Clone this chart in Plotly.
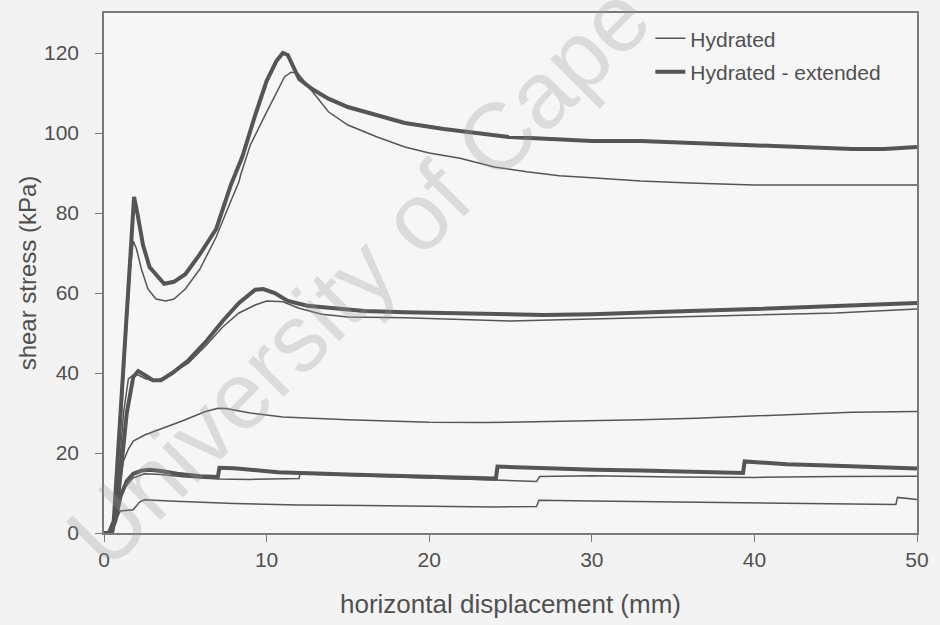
import plotly.graph_objects as go

# ---- data: Hydrated (thin) ----
hyd_a_x = [0, 0.4, 0.7, 1.2, 1.6, 1.8, 2.0, 2.3, 2.7, 3.2, 3.8, 4.3, 5.0, 5.9, 6.9, 7.7, 8.2, 8.3, 8.4, 9.0, 9.9, 10.6, 11.1, 11.5, 11.9, 12.4, 12.9, 13.8, 15, 16.8, 18.5, 20, 21.9, 24, 26, 28, 30, 33, 36, 40, 45, 50]
hyd_a_y = [0, 0, 5, 40, 65, 73, 71, 66, 61, 58.5, 58, 58.5, 61, 66, 74, 82, 87, 87.8, 89.5, 97, 104.4, 110, 114, 115.2, 115, 112.5, 110, 105.3, 102, 99, 96.5, 95, 93.7, 91.5, 90.3, 89.3, 88.8, 88, 87.5, 87, 87, 87]

hyd_b_x = [0, 0.5, 0.8, 1.2, 1.5, 1.8, 2.1, 2.6, 3.2, 4.0, 5.2, 6.3, 7.3, 8.3, 9.3, 10.0, 11.0, 12.0, 13.4, 15, 18.5, 21, 25, 30, 35, 40, 45, 50]
hyd_b_y = [0, 0, 8, 30, 38.5, 39.5, 39.5, 38.5, 38, 39.5, 42.5, 47, 51.5, 55, 57, 58, 57.8, 56.2, 54.7, 54, 53.8, 53.5, 53, 53.5, 54, 54.5, 55, 56]

hyd_c_x = [0, 0.4, 0.8, 1.2, 1.5, 1.8, 2.5, 3.5, 4.8, 5.9, 6.2, 7.0, 7.5, 9, 11, 15, 20, 23.4, 27, 30, 33, 36.4, 40, 43, 46, 50]
hyd_c_y = [0, 0, 8, 18, 21, 23, 24.5, 26, 28, 29.8, 30.3, 31.2, 31.1, 30, 29, 28.3, 27.7, 27.6, 27.8, 28, 28.3, 28.7, 29.3, 29.8, 30.2, 30.4]

hyd_d_x = [0, 0.4, 0.8, 1.2, 1.8, 2.5, 3.5, 5, 7.0, 9, 12, 12.05, 15, 18, 21, 24, 26.6, 26.8, 30, 35, 40, 45, 50]
hyd_d_y = [0, 0, 6, 11, 13.8, 14.8, 14.6, 14, 13.5, 13.4, 13.6, 14.8, 14.4, 14, 13.6, 13.2, 12.9, 14.1, 14.3, 14, 13.9, 14.1, 14.2]

hyd_e_x = [0, 0.3, 0.6, 1.0, 1.8, 2.2, 2.5, 4, 8, 12, 16, 21.5, 24, 26.6, 26.75, 30, 35, 40, 45, 48.7, 48.8, 50]
hyd_e_y = [0, 0, 2, 5.5, 5.8, 7.8, 8.3, 8, 7.4, 7.0, 6.9, 6.7, 6.5, 6.6, 8.2, 8.0, 7.8, 7.5, 7.3, 7.1, 8.9, 8.4]

# ---- data: Hydrated - extended (thick) ----
ext_a_x = [0, 0.3, 0.6, 1.2, 1.6, 1.85, 2.05, 2.4, 2.8, 3.2, 3.7, 4.3, 5.0, 5.9, 6.9, 7.8, 8.5, 9.3, 10.0, 10.6, 11.0, 11.3, 11.7, 12.0, 12.8, 13.8, 15.0, 16.8, 18.5, 20.9, 23.0, 24.9, 27.5, 30, 33, 36, 40, 43, 46, 48, 50]
ext_a_y = [0, 0, 3, 41, 70, 84, 80, 72, 66.5, 64.5, 62.3, 62.8, 64.7, 69.7, 76, 87, 94, 104.5, 113, 118, 120, 119.5, 116, 113.5, 111, 108.6, 106.5, 104.5, 102.5, 101, 100, 99, 98.5, 98, 98, 97.5, 97, 96.5, 96, 96, 96.5]

ext_b_x = [0, 0.5, 0.9, 1.4, 1.8, 2.1, 2.5, 3.0, 3.5, 4.2, 5.2, 6.3, 7.3, 8.3, 9.3, 9.8, 10.5, 11.3, 12.5, 14.4, 16, 18.5, 21, 24, 27, 30, 33, 36, 40, 43, 46, 50]
ext_b_y = [0, 0, 10, 30, 39, 40.5, 39.5, 38.2, 38.2, 40, 43.2, 48, 53, 57.5, 60.8, 61, 60, 58, 56.8, 56, 55.5, 55.2, 55, 54.7, 54.5, 54.7, 55, 55.5, 56, 56.5, 57, 57.5]

ext_c_x = [0, 0.4, 0.7, 1.0, 1.4, 1.8, 2.3, 2.8, 3.5, 4.5, 5.9, 7.0, 7.1, 8, 10.7, 12, 15, 18.9, 21, 24.1, 24.2, 27, 30.2, 33, 36, 39.3, 39.4, 42, 45, 48, 50]
ext_c_y = [0, 0, 3, 9, 13, 14.8, 15.6, 15.8, 15.5, 14.8, 14.2, 14.0, 16.3, 16.2, 15.2, 15, 14.6, 14.2, 14, 13.6, 16.6, 16.2, 15.8, 15.6, 15.3, 15.0, 17.9, 17.2, 16.8, 16.4, 16.1]

x_ticks = [0, 10, 20, 30, 40, 50]
y_ticks = [0, 20, 40, 60, 80, 100, 120]

LINE = "#555555"
TEXT = "#505050"
FONT = "Liberation Sans, Arial, sans-serif"

fig = go.Figure()

thin = [(hyd_a_x, hyd_a_y), (hyd_b_x, hyd_b_y), (hyd_c_x, hyd_c_y), (hyd_d_x, hyd_d_y), (hyd_e_x, hyd_e_y)]
thick = [(ext_a_x, ext_a_y), (ext_b_x, ext_b_y), (ext_c_x, ext_c_y)]

for i, (xs, ys) in enumerate(thin):
    fig.add_trace(go.Scatter(x=xs, y=ys, mode="lines", name="Hydrated",
                             line=dict(color=LINE, width=1.5),
                             legendgroup="h", showlegend=(i == 0)))
for i, (xs, ys) in enumerate(thick):
    fig.add_trace(go.Scatter(x=xs, y=ys, mode="lines", name="Hydrated - extended",
                             line=dict(color=LINE, width=4),
                             legendgroup="e", showlegend=(i == 0)))

fig.add_annotation(text="University of Cape", xref="paper", yref="paper",
                   x=0.312, y=0.495, xanchor="center", yanchor="middle",
                   showarrow=False, textangle=-45,
                   font=dict(family=FONT, size=95, color="rgba(150,150,150,0.28)"))

fig.update_layout(
    width=940, height=625,
    margin=dict(l=104, r=16, t=11, b=91),
    paper_bgcolor="#f3f3f3",
    plot_bgcolor="#f6f6f6",
    font=dict(family=FONT, color=TEXT, size=21),
    legend=dict(x=0.672, y=0.99, xanchor="left", yanchor="top",
                bgcolor="rgba(0,0,0,0)", font=dict(size=21, color=TEXT),
                tracegroupgap=3),
)
fig.update_xaxes(range=[0, 50], tickvals=x_ticks, showgrid=False, zeroline=False,
                 showline=True, mirror=True, linecolor="#7a7a7a", linewidth=1.5,
                 ticks="outside", ticklen=7, tickcolor="#7a7a7a",
                 tickfont=dict(size=21, color=TEXT),
                 title=dict(text="horizontal displacement (mm)", font=dict(size=26, color=TEXT), standoff=25))
fig.update_yaxes(range=[0, 130], tickvals=y_ticks, showgrid=False, zeroline=False,
                 showline=True, mirror=True, linecolor="#7a7a7a", linewidth=1.5,
                 ticks="outside", ticklen=7, tickcolor="#7a7a7a",
                 tickfont=dict(size=21, color=TEXT), ticklabelstandoff=12,
                 title=dict(text="shear stress (kPa)", font=dict(size=24, color=TEXT), standoff=1))

fig.write_html("out.html")
